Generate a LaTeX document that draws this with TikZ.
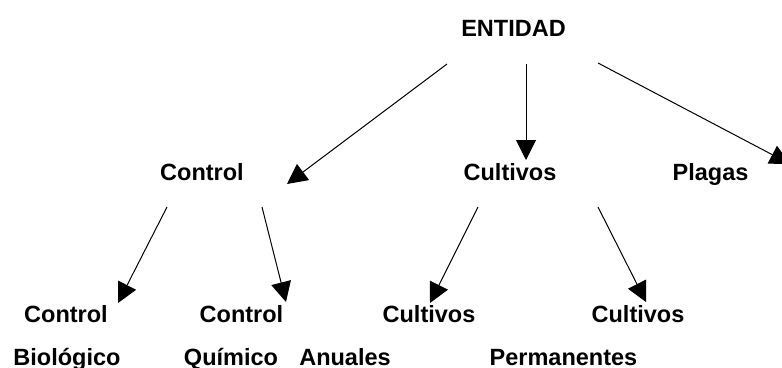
\documentclass[tikz,border=0pt]{standalone}
\usepackage{fontspec}
\setmainfont{Liberation Sans}
\usetikzlibrary{arrows.meta,calc}

\begin{document}
\begin{tikzpicture}[x=1pt,y=-1pt,
    etiqueta/.style={anchor=base,inner sep=0pt,font=\fontsize{23.5}{28}\selectfont\bfseries},
    flecha/.style={line width=1pt,-{Triangle[length=20pt,width=20pt]}}]
    \useasboundingbox (0,0) rectangle (782,367);

    \node[etiqueta] (entidad) at (513.5,36) {ENTIDAD};

    \node[etiqueta] (control) at (202,180) {Control};
    \node[etiqueta] (cultivos) at (510,180) {Cultivos};
    \node[etiqueta] (plagas) at (710.5,180) {Plagas};

    \foreach \nombre/\x/\texto in {ctrlbio/66/Control, ctrlqui/241.5/Control, cultanu/429/Cultivos, cultper/638/Cultivos}
    {
    \node[etiqueta] (\nombre) at (\x,322) {\texto};
    }

    \foreach \nombre/\x/\texto in {ctrlbio2/67/Biológico, ctrlqui2/231/Químico, cultanu2/345/Anuales, cultper2/563.5/Permanentes}
    {
    \node[etiqueta] (\nombre) at (\x,365) {\texto};
    }

    \draw[flecha] ($(entidad.base)+(-66.5,28)$) -- ($(control.base)+(85,4)$);
    \draw[flecha] ($(entidad.base)+(12.5,28)$) -- ($(cultivos.base)+(16,-20)$);
    \draw[flecha] ($(entidad.base)+(84.5,27)$) -- ($(plagas.base)+(79.5,-16)$);

    \draw[flecha] ($(control.base)+(-35,27)$) -- ($(ctrlbio.base)+(52,-19)$);
    \draw[flecha] ($(control.base)+(60,27)$) -- ($(ctrlqui.base)+(44.5,-20)$);
    \draw[flecha] ($(cultivos.base)+(-32,27)$) -- ($(cultanu.base)+(1,-19)$);
    \draw[flecha] ($(cultivos.base)+(88,27)$) -- ($(cultper.base)+(8,-20)$);
\end{tikzpicture}
\end{document}
